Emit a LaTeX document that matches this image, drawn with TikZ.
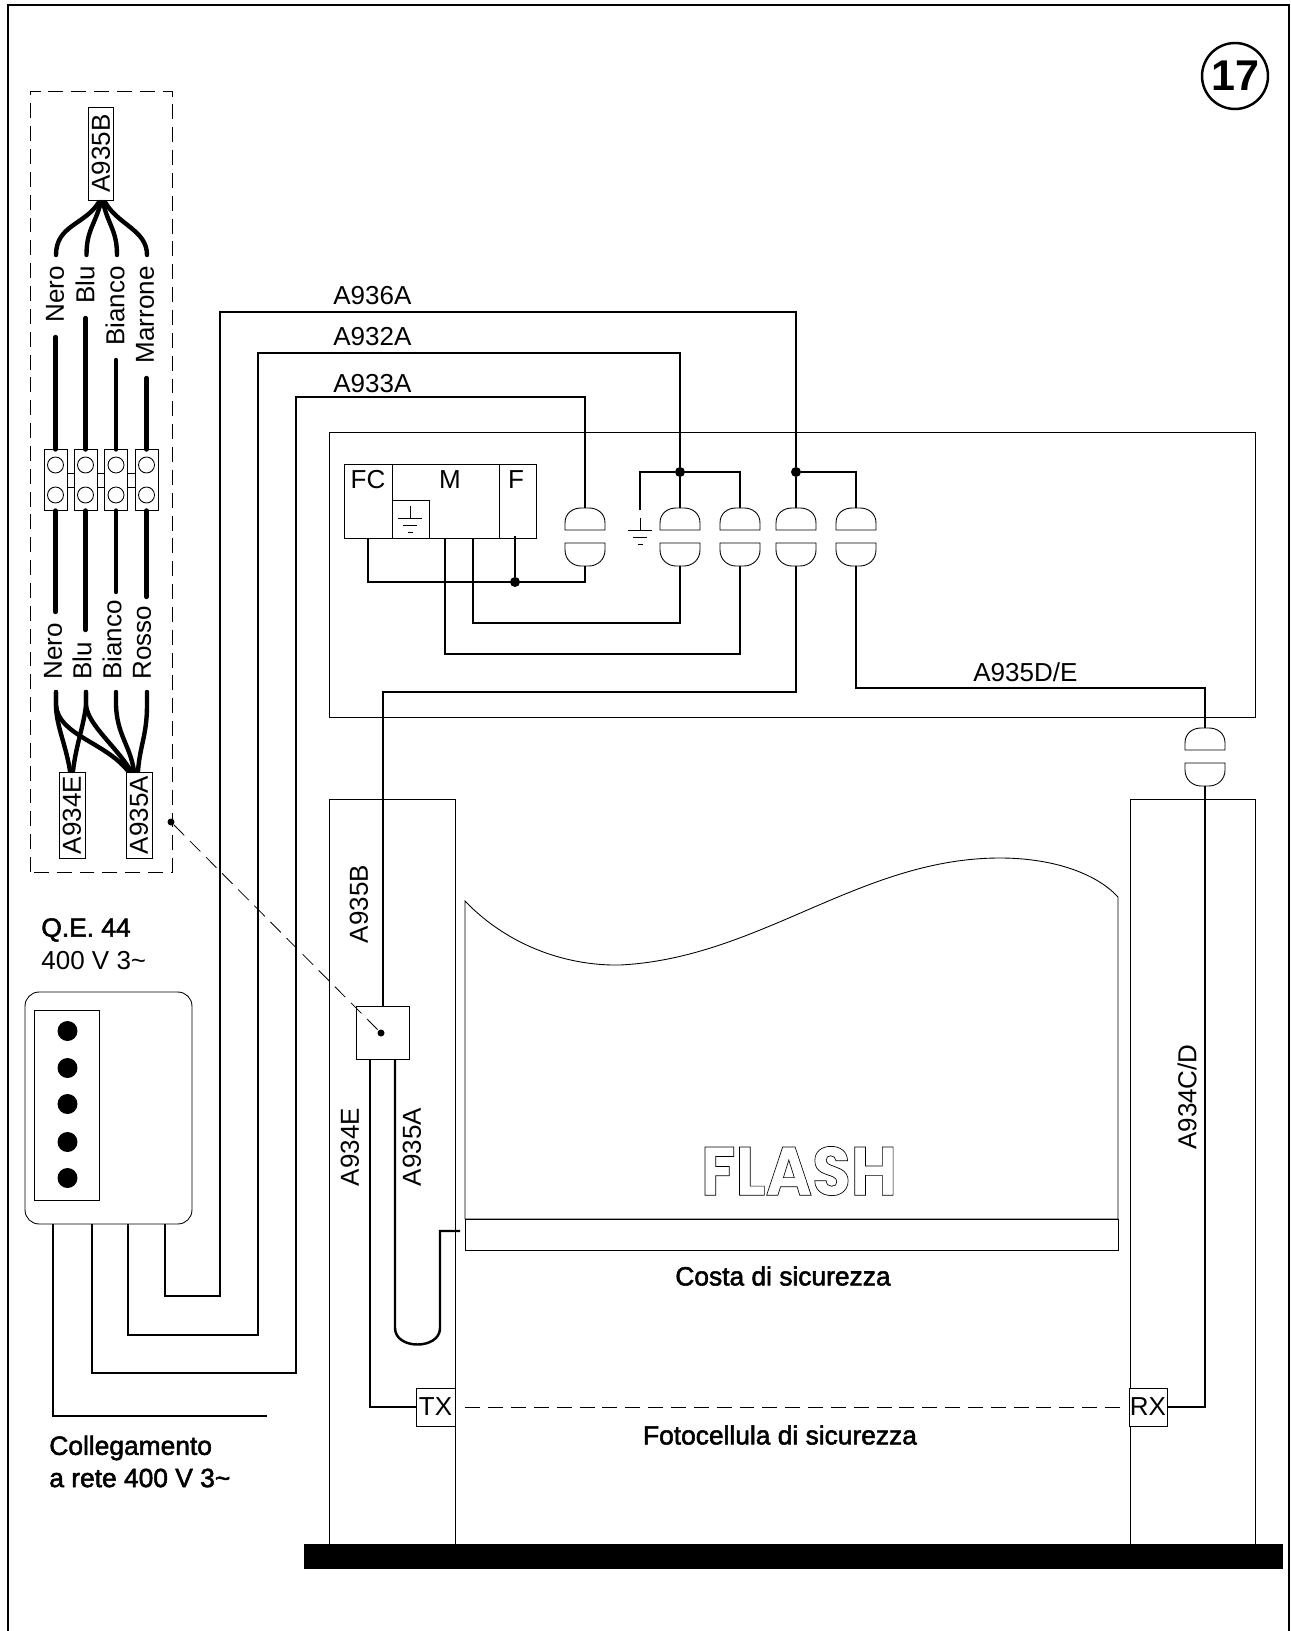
\documentclass[tikz,border=0pt]{standalone}
\usepackage{fontspec}
\setmainfont{Liberation Sans}
\newfontfamily\boldish[FakeBold=2]{Liberation Sans}
\newfontfamily\flashfont{Poppins}[BoldFont=* Bold]
\tikzset{
  wire/.style={line width=1.4pt},
  thinline/.style={line width=0.5pt},
  cable/.style={line width=2.5pt,line cap=round},
  label/.style={inner sep=0,font=\fontsize{14.8}{17}\selectfont},
  boxed/.style={draw,line width=0.5pt,inner sep=0,font=\fontsize{14.8}{17}\selectfont,fill=white},
  heavy/.style={inner sep=0,anchor=west,font=\fontsize{15}{17}\selectfont\boldish},
  junction/.style={circle,fill=black,inner sep=0,minimum size=0.2cm},
  leaderdot/.style={circle,fill=black,inner sep=0,minimum size=0.14cm},
  longdash/.style={line width=0.45pt,dash pattern=on 8.5pt off 4.5pt},
  pics/plug/.style={code={
    \draw[thinline] (-20,-7) -- (-20,-14) .. controls (-20,-24) and (-12,-29) .. (-4,-29) -- (4,-29)
        .. controls (12,-29) and (20,-24) .. (20,-14) -- (20,-7) -- cycle;
    \draw[thinline] (-20,6) -- (-20,13) .. controls (-20,23) and (-12,29) .. (-4,29) -- (4,29)
        .. controls (12,29) and (20,23) .. (20,13) -- (20,6) -- cycle;
    \coordinate (-t) at (0,-29);
    \coordinate (-b) at (0,29);
  }},
  pics/earth/.style={code={
    \draw[thinline] (0,0) -- (0,12);
    \draw[thinline] (-12,12) -- (12,12);
    \draw[thinline] (-7,19) -- (7,19);
    \draw[thinline] (-2.5,26) -- (2.5,26);
  }},
  pics/terminal/.style={code={
    \draw[thinline] (-11.5,-30.5) rectangle (11.5,30.5);
    \draw[thinline] (0,-15) circle (8);
    \draw[thinline] (0,15) circle (8);
    \coordinate (-t) at (0,-30.5);
    \coordinate (-b) at (0,30.5);
  }},
}
\begin{document}
\begin{tikzpicture}[x=0.02cm,y=-0.02cm]
    \useasboundingbox (0,0) rectangle (1290,1631);

    % frame and number
    \draw[line width=1.4pt] (8,1631) -- (8,5) -- (1289,5) -- (1289,1631);
    \node[circle,draw,line width=1.4pt,inner sep=0,minimum size=1.32cm,font=\fontsize{24.5}{28}\selectfont\bfseries] (Num) at (1235,76) {17};

    % wiring detail
    \draw[longdash] (30,872) -- (30,91) -- (172,91) -- (172,872) -- cycle;
    \node[boxed,rotate=90,minimum width=1.86cm,minimum height=0.51cm] (TopBox) at (101,153.5) {A935B};
    \node[boxed,rotate=90,minimum width=1.72cm,minimum height=0.52cm] (LowE) at (72,815) {A934E};
    \node[boxed,rotate=90,minimum width=1.72cm,minimum height=0.52cm] (LowA) at (139,815) {A935A};

    \pic (TA) at (55.5,480) {terminal};
    \pic (TB) at (85.5,480) {terminal};
    \pic (TC) at (116,480) {terminal};
    \pic (TD) at (146.5,480) {terminal};
    \draw[thinline] (67,473) rectangle (74,487);
    \draw[thinline] (97,473) rectangle (104.5,487);
    \draw[thinline] (127.5,473) rectangle (135,487);

    \node[label,rotate=90,anchor=east] (UpNero) at (55,266) {Nero};
    \node[label,rotate=90,anchor=east] (UpBlu) at (85,266) {Blu};
    \node[label,rotate=90,anchor=east] (UpBianco) at (115,266) {Bianco};
    \node[label,rotate=90,anchor=east] (UpMarrone) at (145,266) {Marrone};
    \node[label,rotate=90,anchor=west] (DnNero) at (53,680) {Nero};
    \node[label,rotate=90,anchor=west] (DnBlu) at (82,680) {Blu};
    \node[label,rotate=90,anchor=west] (DnBianco) at (112,680) {Bianco};
    \node[label,rotate=90,anchor=west] (DnRosso) at (142,680) {Rosso};

    \coordinate (FanNero) at (56,255);
    \coordinate (FanBlu) at (86.5,255);
    \coordinate (FanBianco) at (117,255);
    \coordinate (FanMarrone) at (147,255);
    \draw[cable] (FanNero) .. controls (56,225) and (85,225) .. (99,202);
    \draw[cable] (FanBlu) .. controls (86.5,230) and (95,225) .. (101,202);
    \draw[cable] (FanBianco) .. controls (117,230) and (108,225) .. (103,202);
    \draw[cable] (FanMarrone) .. controls (147,230) and (118,225) .. (105,202);

    \coordinate (EndNero) at (55.5,337);
    \coordinate (EndBlu) at (85.5,318);
    \coordinate (EndBianco) at (116,360);
    \coordinate (EndMarrone) at (146.5,378);
    \path[cable,draw] (EndNero) -- (TA-t);
    \path[cable,draw] (EndBlu) -- (TB-t);
    \path[cable,draw] (EndBianco) -- (TC-t);
    \path[cable,draw] (EndMarrone) -- (TD-t);

    \coordinate (BotNero) at (55.5,612);
    \coordinate (BotBlu) at (85.5,630);
    \coordinate (BotBianco) at (116,592);
    \coordinate (BotRosso) at (146.5,597);
    \path[cable,draw] (TA-b) -- (BotNero);
    \path[cable,draw] (TB-b) -- (BotBlu);
    \path[cable,draw] (TC-b) -- (BotBianco);
    \path[cable,draw] (TD-b) -- (BotRosso);

    \draw[cable] (56,692) -- (56,705) .. controls (56,725) and (66,745) .. (70,771);
    \draw[cable] (56,692) -- (56,705) .. controls (58,735) and (105,742) .. (128,771);
    \draw[cable] (86,692) -- (86,705) .. controls (84,725) and (76,745) .. (73,771);
    \draw[cable] (86,692) -- (86,705) .. controls (88,725) and (115,745) .. (131,771);
    \draw[cable] (116,692) -- (116,705) .. controls (117,735) and (130,745) .. (134,771);
    \draw[cable] (147,692) -- (147,705) .. controls (147,735) and (140,745) .. (138,771);

    % control panel
    \node[label,anchor=west] (LbA) at (333,296) {A936A};
    \node[label,anchor=west] (LbB) at (333,337) {A932A};
    \node[label,anchor=west] (LbC) at (333,384) {A933A};
    \node[label,anchor=west] (LbD) at (973,672) {A935D/E};

    \draw[thinline] (329,432) rectangle (1255,717);
    \node[draw,thinline,inner sep=0,minimum width=3.84cm,minimum height=1.48cm] (Motor) at (440,501) {};
    \draw[thinline] (392,464) -- (392,538);
    \draw[thinline] (499,464) -- (499,538);
    \draw[thinline] (392,500) rectangle (429,538);
    \node[label] (LbFC) at (368,480) {FC};
    \node[label] (LbM) at (450,480) {M};
    \node[label] (LbF) at (516,480) {F};
    \pic at (410,506) {earth};
    \pic at (640,518) {earth};

    \pic (PA) at (585,537) {plug};
    \pic (PB) at (680,537) {plug};
    \pic (PC) at (740,537) {plug};
    \pic (PD) at (796,537) {plug};
    \pic (PE) at (856,537) {plug};
    \pic (PF) at (1205,757) {plug};

    \node[junction] (DotB) at (680,472) {};
    \node[junction] (DotD) at (796,472) {};
    \node[junction] (DotM) at (515,582) {};

    % panel box and its five wires
    \node[draw,thinline,rounded corners=8pt,inner sep=0,minimum width=3.34cm,minimum height=4.64cm] (Board) at (108.5,1108) {};
    \draw[thinline] (34,1010) rectangle (99,1200);
    \node[junction,minimum size=0.4cm] (BA) at (67.5,1031) {};
    \node[junction,minimum size=0.4cm] (BB) at (67.5,1068) {};
    \node[junction,minimum size=0.4cm] (BC) at (67.5,1104) {};
    \node[junction,minimum size=0.4cm] (BD) at (67.5,1142) {};
    \node[junction,minimum size=0.4cm] (BE) at (67.5,1178) {};
    \node[heavy] (QE) at (41,930) {Q.E. 44};
    \node[label,anchor=west] (QV) at (41,961) {400 V 3\textasciitilde};
    \node[heavy] (LbNet) at (49,1448) {Collegamento};
    \node[heavy] (LbNetb) at (49,1478) {a rete 400 V 3\textasciitilde};

    \coordinate (QA) at (165,1224);
    \coordinate (QB) at (128,1224);
    \coordinate (QC) at (92,1224);
    \coordinate (QD) at (53,1224);
    \coordinate (RunA) at (220,1296);
    \coordinate (RunB) at (258,1335);
    \coordinate (RunC) at (296,1373);
    \coordinate (RunD) at (267,1416);
    \coordinate (TopA) at (796,312);
    \coordinate (TopB) at (680,353);
    \coordinate (TopC) at (585,397);

    \draw[wire] (QA) |- (RunA) |- (TopA) -- (DotD) -- (PD-t);
    \draw[wire] (QB) |- (RunB) |- (TopB) -- (DotB) -- (PB-t);
    \draw[wire] (QC) |- (RunC) |- (TopC) -- (PA-t);
    \draw[wire] (QD) |- (RunD);

    \coordinate (EarthTop) at (640,510);
    \draw[wire] (EarthTop) |- (DotB) -| (PC-t);
    \draw[wire] (DotD) -| (PE-t);

    \coordinate (MotA) at (368,538);
    \coordinate (MotB) at (473,538);
    \coordinate (MotC) at (445,538);
    \coordinate (MotF) at (515,536);
    \coordinate (BendA) at (585,582);
    \coordinate (BendB) at (680,623);
    \coordinate (BendC) at (740,654);
    \draw[wire] (MotA) |- (BendA) -- (PA-b);
    \draw[wire] (MotF) -- (DotM);
    \draw[wire] (MotB) |- (BendB) -- (PB-b);
    \draw[wire] (MotC) |- (BendC) -- (PC-b);

    % door posts and curtain
    \draw[thinline] (329,1544) -- (329,799) -- (455,799) -- (455,1544);
    \draw[thinline] (1130,1544) -- (1130,799) -- (1255,799) -- (1255,1544);
    \draw[thinline] (465,901) .. controls (510,948) and (570,966) .. (620,965)
        .. controls (760,958) and (860,858) .. (1000,858)
        .. controls (1050,858) and (1095,872) .. (1118,897) -- (1118,1219) -- (465,1219) -- cycle;
    \node[draw,thinline,inner sep=0,minimum width=13.06cm,minimum height=0.62cm] (Edge) at (791.5,1234.5) {};
    \node[inner sep=0,xscale=0.92,font=\fontsize{39}{42}\selectfont\flashfont\bfseries] (Flash) at (799,1171) {\special{pdf: code 1 Tr 0.4 w}FLASH\special{pdf: code 0 Tr}};
    \node[heavy,anchor=center] (LbEdge) at (783,1276) {Costa di sicurezza};
    \node[heavy,anchor=center] (LbPhoto) at (780,1435) {Fotocellula di sicurezza};
    \node[fill=black,inner sep=0,minimum width=19.6cm,minimum height=0.5cm] (Floor) at (793.5,1556.5) {};

    % sensors and their wires
    \node[boxed,minimum width=1.06cm,minimum height=1.06cm] (Box) at (382.5,1032.5) {};
    \node[boxed,minimum width=0.78cm,minimum height=0.76cm] (TX) at (435.5,1407) {TX};
    \node[boxed,minimum width=0.76cm,minimum height=0.76cm] (RX) at (1148,1407) {RX};
    \draw[longdash,shorten <=0.2cm,shorten >=0.05cm] (TX) -- (RX);

    \coordinate (PanelD) at (383,692);
    \coordinate (PanelE) at (1205,688);
    \coordinate (Far) at (1205,1407);
    \coordinate (BoxTop) at (383,1006);
    \draw[wire] (PD-b) |- (PanelD) -- (BoxTop);
    \draw[wire] (PE-b) |- (PanelE) -- (PF-t);
    \draw[wire] (PF-b) -- (Far) -- (RX);

    \coordinate (BoxE) at (370,1059);
    \coordinate (BoxA) at (395,1059);
    \coordinate (SafeEnd) at (460,1231);
    \coordinate (SafeBend) at (440,1231);
    \draw[wire] (BoxE) |- (TX);
    \draw[wire] (BoxA) -- (395,1328) .. controls (395,1350) and (440,1350) .. (440,1328) -- (SafeBend) -- (SafeEnd);

    \node[label,rotate=90] (LbBoxB) at (359,904) {A935B};
    \node[label,rotate=90] (LbBoxE) at (350,1147) {A934E};
    \node[label,rotate=90] (LbBoxA) at (412,1147) {A935A};
    \node[label,rotate=90] (LbFar) at (1187,1097) {A934C/D};

    % leader from the detail to the box
    \node[leaderdot] (LeadA) at (171,822) {};
    \node[leaderdot] (LeadB) at (381,1033) {};
    \draw[longdash] (LeadA) -- (LeadB);
\end{tikzpicture}
\end{document}
